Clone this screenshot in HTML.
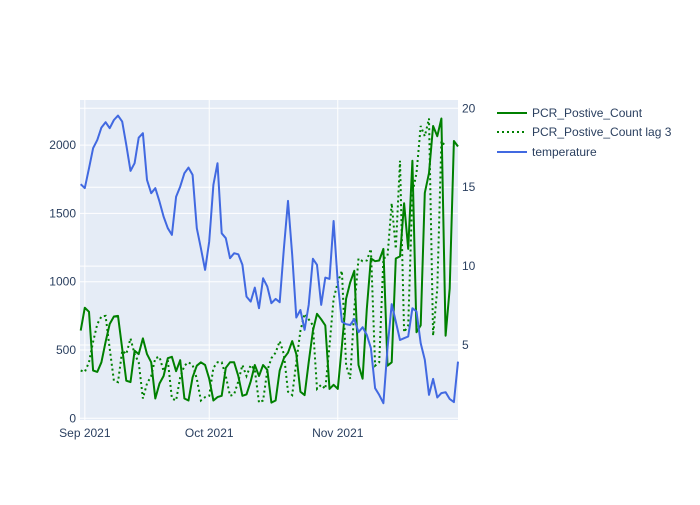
<!DOCTYPE html>
<html><head><meta charset="utf-8"><style>
body{margin:0;background:#fff;font-family:"Liberation Sans",sans-serif}
svg text{font-family:"Liberation Sans",sans-serif;fill:#2a3f5f;font-size:12px}
</style></head><body>
<svg id="chart" width="700" height="500" xmlns="http://www.w3.org/2000/svg">
<rect width="700" height="500" fill="#fff"/>
<rect x="80" y="100" width="378" height="320" fill="#E5ECF6"/>
<g id="grid"></g><g id="series"></g><g id="axes"></g>
<g>
<g><line x1="497" y1="113" x2="527" y2="113" stroke="green" stroke-width="2"/><text x="532" y="117">PCR_Postive_Count</text></g>
<g><line x1="497" y1="132" x2="527" y2="132" stroke="green" stroke-width="2" stroke-dasharray="2,3"/><text x="532" y="136">PCR_Postive_Count lag 3</text></g>
<g><line x1="497" y1="152" x2="527" y2="152" stroke="royalblue" stroke-width="2"/><text x="532" y="156">temperature</text></g>
</g>
</svg>
<script>
const startDate = "2021-08-31";
const pcr = [642,810,780,350,340,410,560,690,745,750,510,275,265,495,470,585,470,410,145,255,310,440,450,345,425,145,130,300,385,410,390,290,130,155,165,370,410,410,310,165,175,270,390,310,390,355,115,130,350,440,480,565,470,195,170,410,640,765,725,680,215,245,215,530,875,995,1080,390,290,800,1170,1150,1155,1240,385,410,1170,1185,1575,1240,1885,630,680,1650,1795,2140,2065,2195,605,950,2030,1990];
const pcrLag3 = [350,340,410,560,690,745,750,510,275,265,495,470,585,470,410,145,255,310,440,450,345,425,145,130,300,385,410,390,290,130,155,165,370,410,410,310,165,175,270,390,310,390,355,115,130,350,440,480,565,470,195,170,410,640,765,725,680,215,245,215,530,875,995,1080,390,290,800,1170,1150,1155,1240,385,410,1170,1185,1575,1240,1885,630,680,1650,1795,2140,2065,2195,605,950,2030,1990];
const temperature = [15.19,14.94,16.2,17.47,18.0,18.78,19.12,18.74,19.26,19.54,19.16,17.68,16.03,16.52,18.14,18.42,15.46,14.62,14.94,14.09,13.14,12.4,11.98,14.4,15.04,15.89,16.24,15.78,12.4,11.13,9.76,11.55,15.15,16.52,12.08,11.77,10.5,10.82,10.75,10.08,8.07,7.75,8.64,7.33,9.23,8.7,7.65,7.92,7.71,11.13,14.13,10.71,6.74,7.22,5.96,7.54,10.46,10.08,7.54,9.27,9.19,12.86,8.92,6.48,6.32,6.27,6.65,5.81,6.13,5.64,4.8,2.26,1.84,1.31,4.8,7.59,6.48,5.32,5.43,5.54,7.33,7.12,5.11,4.06,1.84,2.85,1.67,1.95,2.01,1.58,1.38,3.95];
const leftTicks = [0,500,1000,1500,2000];
const rightTicks = [5,10,15,20];
const xTickLabels = ["Sep 2021","Oct 2021","Nov 2021"];
const xTickDays = [1,31,62];

const X0=80.7, X1=458, Y0=100, Y1=420;
const nDays = pcr.length-1;
const x = d => X0 + (X1-X0)*d/nDays;
const yL = v => 418.3 - v*68.3/500;
const yR = v => 423.9 - v*15.78;
const NS="http://www.w3.org/2000/svg";
function mk(tag, attrs, parent){const e=document.createElementNS(NS,tag);for(const k in attrs)e.setAttribute(k,attrs[k]);parent.appendChild(e);return e;}
const grid=document.getElementById('grid'), ser=document.getElementById('series'), axes=document.getElementById('axes');
leftTicks.forEach(v=>{const l=mk('line',{x1:80,x2:458,y1:yL(v),y2:yL(v),stroke:'#fff','stroke-width':1},grid);


const t=mk('text',{x:76,y:yL(v)+4,'text-anchor':'end'},axes);t.textContent=v;

});
rightTicks.forEach(v=>{const l=mk('line',{x1:80,x2:458,y1:yR(v),y2:yR(v),stroke:'#fff','stroke-width':1},grid);


const t=mk('text',{x:462,y:yR(v)+4,'text-anchor':'start'},axes);t.textContent=v;

});
xTickDays.forEach((d,i)=>{const xx=x(d);const l=mk('line',{x1:xx,x2:xx,y1:Y0,y2:Y1,stroke:'#fff','stroke-width':1},grid);


const t=mk('text',{x:xx,y:437,'text-anchor':'middle'},axes);t.textContent=xTickLabels[i];

});
function pts(arr,yf){return arr.map((v,i)=>x(i).toFixed(1)+','+yf(v).toFixed(1)).join(' ');}
const p1=mk('polyline',{points:pts(pcr,yL),fill:'none',stroke:'green','stroke-width':2,'stroke-linejoin':'round'},ser);


const p2=mk('polyline',{points:pts(pcrLag3,yL),fill:'none',stroke:'green','stroke-width':2,'stroke-dasharray':'2,3'},ser);


const p3=mk('polyline',{points:pts(temperature,yR),fill:'none',stroke:'royalblue','stroke-width':2,'stroke-linejoin':'round'},ser);


</script>
</body></html>
